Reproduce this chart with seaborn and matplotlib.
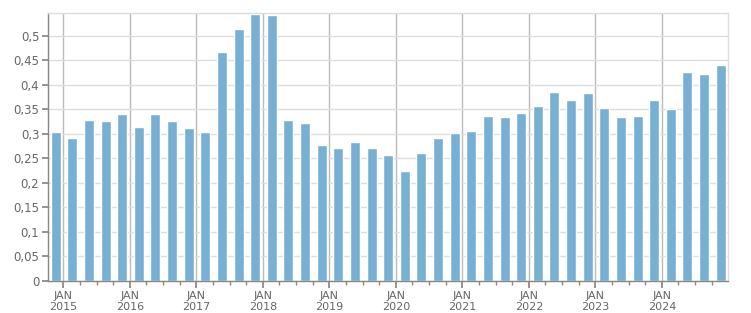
import matplotlib
matplotlib.use("Agg")
import matplotlib.pyplot as plt
import seaborn as sns
import numpy as np
import pandas as pd
from matplotlib.ticker import FixedLocator, FuncFormatter

# Quarterly values, Q4 2014 .. Q4 2024
quarters = pd.period_range("2014Q4", "2024Q4", freq="Q").astype(str).tolist()
values = [0.304,
          0.292, 0.328, 0.326, 0.340,
          0.314, 0.340, 0.326, 0.312,
          0.304, 0.467, 0.514, 0.544,
          0.542, 0.328, 0.322, 0.277,
          0.271, 0.283, 0.271, 0.257,
          0.224, 0.261, 0.291, 0.302,
          0.306, 0.336, 0.334, 0.342,
          0.357, 0.385, 0.369, 0.383,
          0.353, 0.334, 0.336, 0.369,
          0.351, 0.426, 0.422, 0.440]
year_labels = ["JAN\n%d" % y for y in range(2015, 2025)]
y_ticks = [0, 0.05, 0.1, 0.15, 0.2, 0.25, 0.3, 0.35, 0.4, 0.45, 0.5]

sns.set_theme(style="white")
plt.rcParams["font.family"] = ["DejaVu Sans"]

# x positions in quarter units, Jan 2015 = 0, bars at mid-quarter
pos = np.arange(len(values)) - 1 + 0.54
df = pd.DataFrame({"x": pos, "v": values, "q": quarters})

fig = plt.figure(figsize=(7.51, 3.13), dpi=100)
ax = fig.add_axes([0.0635, 0.1022, 0.9063, 0.8553])

sns.barplot(data=df, x="x", y="v", native_scale=True, color="#78b0d3",
            saturation=1, width=0.6, ax=ax, zorder=2)

ax.set_xlim(-0.94, 40.0)
ax.set_ylim(0, 0.546)
ax.set_xlabel("")
ax.set_ylabel("")

ax.xaxis.set_major_locator(FixedLocator([4 * i for i in range(10)]))
ax.set_xticklabels(year_labels)
minor = [q for q in range(0, 40) if q % 4 != 0]
ax.xaxis.set_minor_locator(FixedLocator(minor))
ax.set_yticks(y_ticks)
ax.yaxis.set_major_formatter(FuncFormatter(lambda v, p: ("%g" % round(v, 2)).replace(".", ",")))

ax.grid(axis="y", color="#dddddd", linewidth=1, zorder=0)
ax.grid(axis="x", which="major", color="#bbbbbb", linewidth=1, zorder=0)
ax.set_axisbelow(True)

for s in ["left", "bottom"]:
    ax.spines[s].set_color("#888888")
    ax.spines[s].set_linewidth(1)
for s in ["top", "right"]:
    ax.spines[s].set_color("#dddddd")
    ax.spines[s].set_linewidth(1)

ax.tick_params(axis="x", which="major", length=5, color="#888888", labelsize=8,
               labelcolor="#666666", pad=2, bottom=True)
ax.tick_params(axis="x", which="minor", length=3, color="#888888", bottom=True)
ax.tick_params(axis="y", which="major", length=4, color="#888888", labelsize=8.5,
               labelcolor="#666666", pad=2, left=True)
for t in ax.get_xticklabels():
    t.set_linespacing(1.1)

fig.savefig("out.png", dpi=100)
